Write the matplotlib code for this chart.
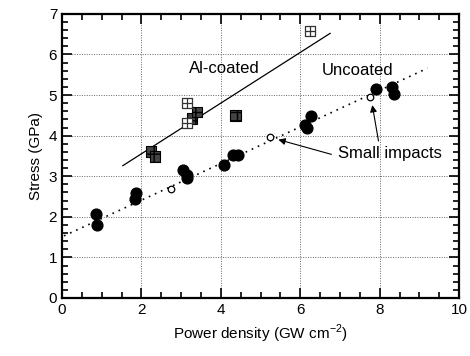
import matplotlib
matplotlib.use('Agg')
import matplotlib.pyplot as plt
from matplotlib.ticker import MultipleLocator

plt.rcParams['font.family'] = ['Liberation Sans', 'DejaVu Sans']
plt.rcParams['mathtext.fontset'] = 'custom'
plt.rcParams['mathtext.rm'] = 'Liberation Sans'

# Uncoated samples (filled circles)
unc_x = [0.86, 0.88, 1.86, 1.84, 3.05, 3.15, 3.15, 4.08, 4.30, 4.43, 6.12, 6.17, 6.27, 7.90, 8.30, 8.35]
unc_y = [2.07, 1.80, 2.59, 2.45, 3.15, 3.02, 2.96, 3.27, 3.52, 3.52, 4.26, 4.19, 4.48, 5.16, 5.20, 5.03]

# Small impacts (open circles)
small_x = [2.75, 5.24, 7.76]
small_y = [2.68, 3.97, 4.96]

# Al-coated, open squares with cross
al_open_x = [3.15, 3.15, 6.25]
al_open_y = [4.80, 4.30, 6.58]
# Al-coated, dark hatched squares
al_fill_x = [2.24, 2.34, 3.27, 3.40, 4.36]
al_fill_y = [3.60, 3.48, 4.43, 4.58, 4.50]

# Trend lines (end points)
al_line_x = [1.53, 6.75]
al_line_y = [3.26, 6.52]
unc_line_x = [0.05, 9.20]
unc_line_y = [1.53, 5.66]

fig = plt.figure(figsize=(4.7, 3.56), dpi=100)
ax = fig.add_axes([0.132, 0.163, 0.845, 0.798])

ax.plot(al_line_x, al_line_y, color='black', lw=0.9)
ax.plot(unc_line_x, unc_line_y, color='black', lw=1.2, ls=(0, (1, 3)))

ax.scatter(unc_x, unc_y, s=60, color='black', zorder=3)
ax.scatter(small_x, small_y, s=22, facecolor='white', edgecolor='black', lw=0.9, zorder=3)
ax.scatter(al_fill_x, al_fill_y, s=60, marker='s', facecolor='#444444', edgecolor='black',
           hatch='++', lw=0.8, zorder=3)
ax.scatter(al_open_x, al_open_y, s=60, marker='s', facecolor='white', edgecolor='#333333',
           lw=0.9, zorder=3)
ax.scatter(al_open_x, al_open_y, s=60, marker='+', color='#333333', lw=0.9, zorder=4)

ax.text(3.2, 5.65, 'Al-coated', fontsize=12, va='center')
ax.text(6.55, 5.6, 'Uncoated', fontsize=12, va='center')
ax.text(6.95, 3.55, 'Small impacts', fontsize=12, va='center')
ax.annotate('', xy=(5.38, 3.92), xytext=(6.85, 3.52),
            arrowprops=dict(arrowstyle='-|>', color='black', lw=0.8, mutation_scale=10))
ax.annotate('', xy=(7.8, 4.82), xytext=(7.98, 3.8),
            arrowprops=dict(arrowstyle='-|>', color='black', lw=0.8, mutation_scale=10))

ax.set_xlim(0, 10)
ax.set_ylim(0, 7)
ax.xaxis.set_major_locator(MultipleLocator(2))
ax.xaxis.set_minor_locator(MultipleLocator(0.5))
ax.yaxis.set_major_locator(MultipleLocator(1))
ax.yaxis.set_minor_locator(MultipleLocator(0.2))
ax.tick_params(which='both', direction='in', top=True, right=True, labelsize=11, width=1.2)
ax.tick_params(which='major', length=7)
ax.tick_params(which='minor', length=4)
for s in ax.spines.values():
    s.set_linewidth(1.6)
ax.grid(True, which='major', color='#666666', ls=(0, (1, 1.5)), lw=0.7)

ax.set_xlabel('Power density (GW cm$^{-2}$)', fontsize=11)
ax.set_ylabel('Stress (GPa)', fontsize=11)

fig.savefig('out.png', dpi=100)
